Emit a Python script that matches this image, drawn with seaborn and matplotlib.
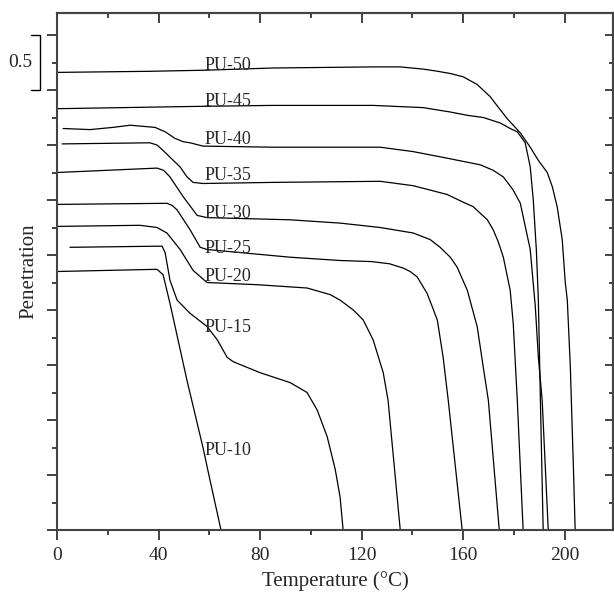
import numpy as np
import pandas as pd
import seaborn as sns
import matplotlib.pyplot as plt
from matplotlib.ticker import MultipleLocator

# temperature (deg C) / penetration (offset, arbitrary units) for each sample
pu50_t = [0, 36.6, 58.3, 85.1, 124.5, 135.2, 144.2, 150.0, 154.9, 160.0, 165.5, 170.6,
          174.6, 177.3, 182.5, 186.4, 189.6, 193.1, 195.1, 197.0, 199.0, 200.2, 201.0,
          202.2, 203.4, 204.1]
pu50_p = [4.16, 4.17, 4.18, 4.20, 4.21, 4.21, 4.19, 4.17, 4.15, 4.12, 4.05, 3.94,
          3.82, 3.74, 3.61, 3.48, 3.36, 3.25, 3.12, 2.94, 2.64, 2.25, 2.09,
          1.48, 0.57, 0.0]

pu45_t = [0, 52.4, 85.1, 124.5, 144.2, 154.9, 161.6, 167.9, 174.6, 178.5, 181.3,
          183.2, 184.4, 185.6, 186.4, 187.6, 188.8, 189.6, 190.4, 191.5]
pu45_p = [3.83, 3.85, 3.86, 3.86, 3.84, 3.80, 3.77, 3.75, 3.70, 3.65, 3.62,
          3.56, 3.52, 3.39, 3.30, 3.00, 2.55, 2.09, 1.18, 0.0]

pu40_t = [2.4, 13.0, 22.0, 28.8, 38.6, 42.6, 46.5, 49.7, 52.4, 57.5, 85.1, 127.3,
          140.3, 153.7, 166.7, 171.8, 175.8, 179.7, 182.5, 183.6, 186.4, 188.4,
          189.6, 191.1, 193.5]
pu40_p = [3.65, 3.64, 3.66, 3.68, 3.66, 3.62, 3.56, 3.53, 3.52, 3.49, 3.48, 3.48,
          3.44, 3.38, 3.32, 3.27, 3.21, 3.09, 2.97, 2.85, 2.55, 2.03,
          1.57, 1.18, 0.0]

pu35_t = [2.0, 36.6, 39.4, 41.8, 48.5, 51.2, 53.6, 57.5, 85.1, 127.3, 140.3, 147.0,
          153.7, 160.0, 163.9, 166.7, 169.5, 171.8, 173.8, 175.8, 178.5, 179.7,
          181.3, 183.6]
pu35_p = [3.51, 3.52, 3.50, 3.45, 3.30, 3.21, 3.16, 3.15, 3.16, 3.17, 3.13, 3.09,
          3.05, 2.98, 2.94, 2.88, 2.82, 2.73, 2.62, 2.48, 2.18, 1.88,
          1.18, 0.0]

pu30_t = [0, 39.4, 42.0, 44.5, 49.7, 55.2, 59.1, 91.8, 111.5, 127.3, 140.3, 147.0,
          150.9, 154.9, 157.6, 161.6, 165.5, 167.9, 169.9, 174.2]
pu30_p = [3.25, 3.29, 3.27, 3.21, 3.03, 2.86, 2.84, 2.82, 2.79, 2.75, 2.70, 2.64,
          2.57, 2.48, 2.39, 2.18, 1.85, 1.48, 1.18, 0.0]

pu25_t = [0, 43.3, 45.4, 47.3, 52.4, 56.4, 59.1, 91.8, 111.5, 124.0, 131.0, 136.5,
          139.1, 141.9, 145.8, 149.8, 152.1, 154.1, 159.6]
pu25_p = [2.96, 2.97, 2.95, 2.91, 2.73, 2.57, 2.55, 2.48, 2.45, 2.44, 2.42, 2.38,
          2.35, 2.30, 2.15, 1.91, 1.57, 1.18, 0.0]

pu20_t = [0, 32.7, 39.4, 43.3, 48.5, 53.6, 59.1, 78.8, 98.5, 107.6, 111.5, 116.7,
          120.6, 124.5, 128.5, 130.4, 135.2]
pu20_p = [2.76, 2.77, 2.75, 2.70, 2.55, 2.36, 2.25, 2.23, 2.20, 2.14, 2.09, 2.00,
          1.91, 1.73, 1.43, 1.18, 0.0]

pu15_t = [5.1, 39.4, 41.4, 42.6, 44.5, 47.3, 52.4, 59.1, 63.1, 67.0, 69.4,
          80.0, 91.8, 98.5, 102.5, 106.4, 109.6, 111.5, 112.7]
pu15_p = [2.57, 2.58, 2.58, 2.52, 2.27, 2.09, 1.97, 1.85, 1.73, 1.57, 1.53,
          1.43, 1.34, 1.25, 1.09, 0.85, 0.55, 0.30, 0.0]

pu10_t = [0, 39.4, 41.8, 44.5, 51.2, 57.5, 60.3, 64.6]
pu10_p = [2.35, 2.37, 2.32, 2.06, 1.36, 0.75, 0.45, 0.0]

labels = ["PU-50", "PU-45", "PU-40", "PU-35", "PU-30", "PU-25", "PU-20", "PU-15", "PU-10"]
label_y = [4.18, 3.85, 3.51, 3.18, 2.84, 2.52, 2.26, 1.80, 0.68]
label_x = 58.3

curves = [(pu50_t, pu50_p), (pu45_t, pu45_p), (pu40_t, pu40_p), (pu35_t, pu35_p),
          (pu30_t, pu30_p), (pu25_t, pu25_p), (pu20_t, pu20_p), (pu15_t, pu15_p),
          (pu10_t, pu10_p)]

rows = []
for name, (t, p) in zip(labels, curves):
    for a, b in zip(t, p):
        rows.append((name, a, b))
df = pd.DataFrame(rows, columns=["sample", "T", "P"])

sns.set_theme(style="ticks")
plt.rcParams["font.family"] = ["Liberation Serif", "DejaVu Serif"]

fig = plt.figure(figsize=(6.14, 5.93), dpi=100)
ax = fig.add_axes([57 / 614, 1 - 530 / 593, 556 / 614, 517 / 593])

for name in labels:
    sub = df[df["sample"] == name]
    sns.lineplot(data=sub, x="T", y="P", sort=False, estimator=None,
                 color="black", linewidth=0.9, ax=ax,
                 solid_joinstyle="round", solid_capstyle="round")

for name, y in zip(labels, label_y):
    ax.text(label_x, y, name, fontsize=13, ha="left", va="baseline")

ax.set_xlim(0, 219)
ax.set_ylim(0, 4.70)
ax.xaxis.set_major_locator(MultipleLocator(40))
ax.xaxis.set_minor_locator(MultipleLocator(20))
ax.yaxis.set_major_locator(MultipleLocator(0.5))
ax.yaxis.set_minor_locator(MultipleLocator(0.25))
ax.set_yticklabels([])
ax.tick_params(axis="both", which="both", direction="out", color="#222222",
               labelsize=14, width=1.2)
ax.tick_params(which="major", length=7)
ax.tick_params(which="minor", length=3.5)
ax.tick_params(axis="x", pad=5)

top = ax.secondary_xaxis("top")
top.xaxis.set_major_locator(MultipleLocator(40))
top.xaxis.set_minor_locator(MultipleLocator(20))
top.tick_params(which="both", direction="in", labeltop=False, color="#222222", width=1.2)
top.tick_params(which="major", length=7)
top.tick_params(which="minor", length=3.5)

right = ax.secondary_yaxis("right")
right.yaxis.set_major_locator(MultipleLocator(0.5))
right.yaxis.set_minor_locator(MultipleLocator(0.25))
right.tick_params(which="both", direction="in", labelright=False, color="#222222", width=1.2)
right.tick_params(which="major", length=6)
right.tick_params(which="minor", length=3)

for a in (ax, top, right):
    for s in a.spines.values():
        s.set_linewidth(1.5)
        s.set_color("#444444")

ax.set_xlabel("Temperature (°C)", fontsize=15, labelpad=5)
ax.set_ylabel("Penetration", fontsize=15, labelpad=3)

# 0.5 scale bar to the left of the axis
bar_x = [-10.2, -6.7, -6.7, -10.2]
bar_y = [4.5, 4.5, 4.0, 4.0]
ax.plot(bar_x, bar_y, color="black", linewidth=1.0, clip_on=False)
ax.text(-14.6, 4.25, "0.5", fontsize=14, ha="center", va="center")

fig.savefig("out.png", dpi=100)
